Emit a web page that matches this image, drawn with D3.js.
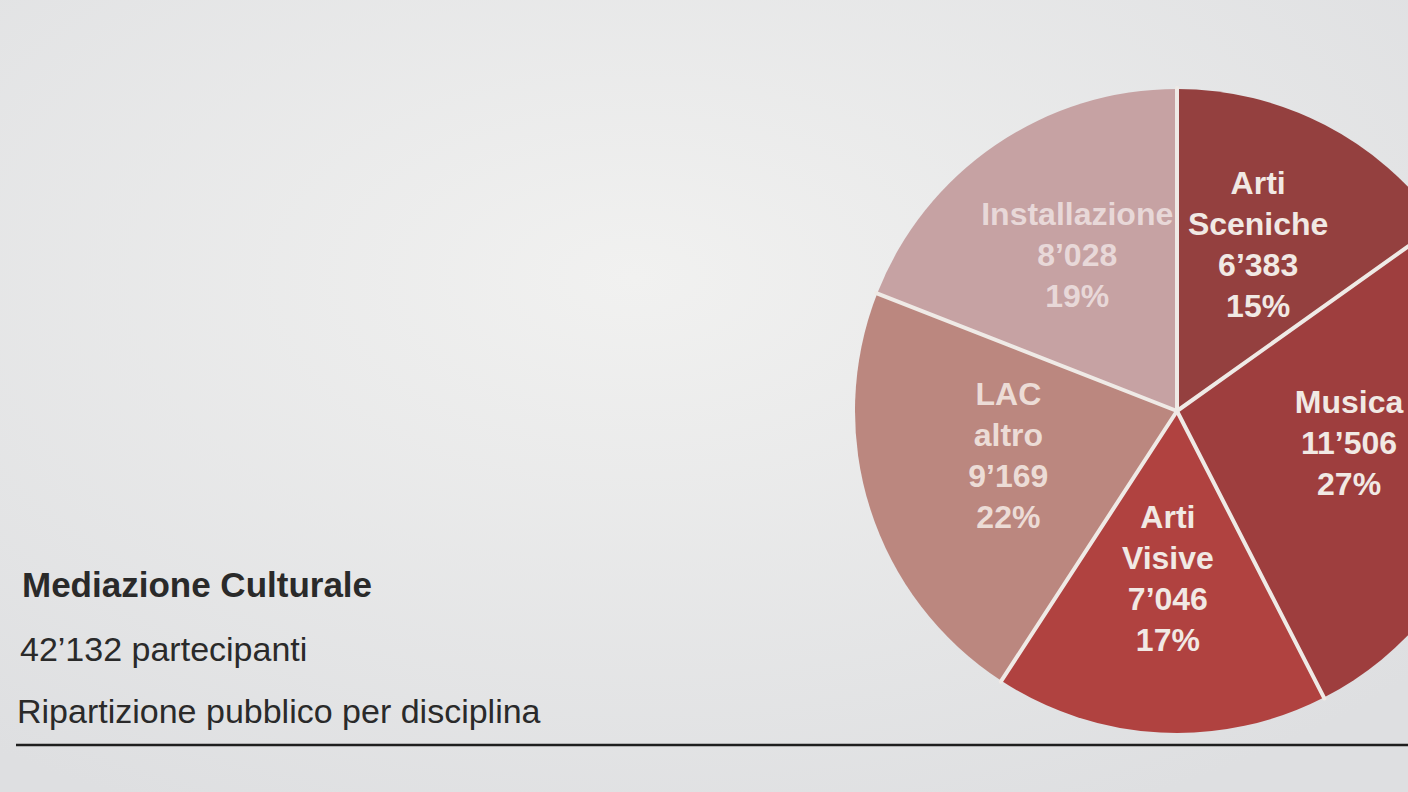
<!DOCTYPE html>
<html>
<head>
<meta charset="utf-8">
<script src="https://cdn.jsdelivr.net/npm/d3@7"></script>
<style>
  html, body { margin: 0; padding: 0; background: #e8e8e8; }
  svg { display: block; }
</style>
</head>
<body>
<script>
// Mediazione Culturale: public split by discipline
const categories = ["Arti Sceniche", "Musica", "Arti Visive", "LAC altro", "Installazione"];
const labelLines = [["Arti", "Sceniche"], ["Musica"], ["Arti", "Visive"], ["LAC", "altro"], ["Installazione"]];
const participants = [6383, 11506, 7046, 9169, 8028];
const percentLabels = ["15%", "27%", "17%", "22%", "19%"];
const sliceColors = ["#94403f", "#9e3e3e", "#b04240", "#bb877f", "#c6a2a3"];
const textColors = ["#f1e9e4", "#f1e9e4", "#f1e9e4", "#ecdcd6", "#e8d8d8"];

const width = 1408, height = 792;
const cx = 1177, cy = 411, radius = 322;

const svg = d3.select("body").append("svg")
  .attr("width", width)
  .attr("height", height);

// paper background
const defs = svg.append("defs");
const grad = defs.append("radialGradient")
  .attr("id", "paper")
  .attr("cx", "45%").attr("cy", "35%").attr("r", "75%");
grad.append("stop").attr("offset", "0%").attr("stop-color", "#f1f1f0");
grad.append("stop").attr("offset", "100%").attr("stop-color", "#dedfe1");
svg.append("rect")
  .attr("width", width).attr("height", height)
  .attr("fill", "url(#paper)");

// thousands separator with apostrophe
const fmt = n => d3.format(",")(n).replace(/,/g, "\u2019");

const pie = d3.pie().sort(null).value(d => d);
const arcs = pie(participants);

const arc = d3.arc().innerRadius(0).outerRadius(radius);
const labelArc = d3.arc().innerRadius(radius * 0.55).outerRadius(radius * 0.55);

const g = svg.append("g").attr("transform", `translate(${cx},${cy})`);

g.selectAll("path.slice")
  .data(arcs)
  .join("path")
  .attr("class", "slice")
  .attr("d", arc)
  .attr("fill", (d, i) => sliceColors[i]);

// white separators between slices
g.selectAll("line.sep")
  .data(arcs)
  .join("line")
  .attr("class", "sep")
  .attr("x1", 0).attr("y1", 0)
  .attr("x2", d => d3.pointRadial(d.startAngle, radius + 1)[0])
  .attr("y2", d => d3.pointRadial(d.startAngle, radius + 1)[1])
  .attr("stroke", "#efeae6")
  .attr("stroke-width", 4)
  .attr("stroke-linecap", "round");

const lineH = 41;
g.selectAll("text.lbl")
  .data(arcs)
  .join("text")
  .attr("class", "lbl")
  .attr("text-anchor", "middle")
  .attr("font-family", "'Liberation Sans', Arial, sans-serif")
  .attr("font-weight", "bold")
  .attr("font-size", 32)
  .attr("fill", (d, i) => textColors[i])
  .each(function (d, i) {
    const lines = labelLines[i].concat([fmt(participants[i]), percentLabels[i]]);
    const [x, y] = labelArc.centroid(d);
    const top = y - 10 - (lines.length - 1) * lineH / 2;
    d3.select(this).selectAll("tspan")
      .data(lines)
      .join("tspan")
      .attr("x", x)
      .attr("y", (l, j) => top + j * lineH)
      .attr("dy", "0.36em")
      .text(l => l);
  });

// caption block
const caption = svg.append("g")
  .attr("font-family", "'Liberation Sans', Arial, sans-serif")
  .attr("fill", "#2a2a2a");

caption.append("text")
  .attr("x", 22).attr("y", 597)
  .attr("font-size", 35).attr("font-weight", "bold")
  .text("Mediazione Culturale");

caption.append("text")
  .attr("x", 20).attr("y", 661)
  .attr("font-size", 34)
  .text(fmt(d3.sum(participants)) + " partecipanti");

caption.append("text")
  .attr("x", 17).attr("y", 723)
  .attr("font-size", 34)
  .text("Ripartizione pubblico per disciplina");

svg.append("line")
  .attr("x1", 16).attr("x2", width)
  .attr("y1", 745).attr("y2", 745)
  .attr("stroke", "#1e1e1e")
  .attr("stroke-width", 2.5);
</script>
</body>
</html>
